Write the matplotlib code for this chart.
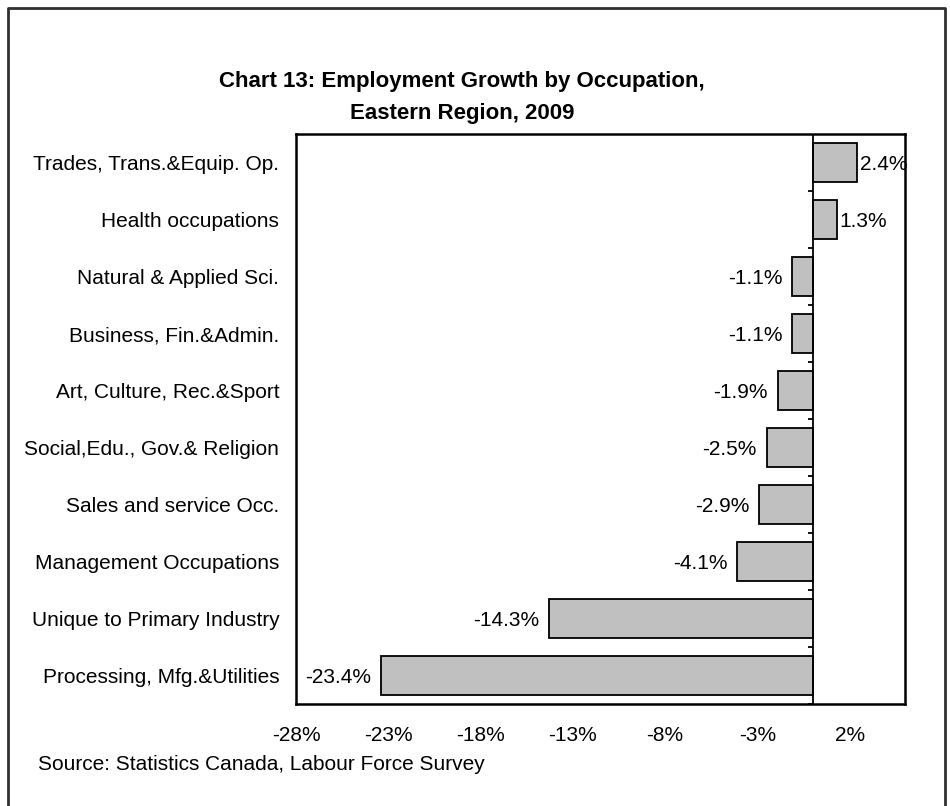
import numpy as np
import matplotlib.pyplot as plt
from matplotlib.lines import Line2D

plt.rcParams['font.family'] = ['Liberation Sans', 'DejaVu Sans']

# data (top to bottom as shown)
occupations = ['Trades, Trans.&Equip. Op.', 'Health occupations', 'Natural & Applied Sci.',
               'Business, Fin.&Admin.', 'Art, Culture, Rec.&Sport', 'Social,Edu., Gov.& Religion',
               'Sales and service Occ.', 'Management Occupations', 'Unique to Primary Industry',
               'Processing, Mfg.&Utilities']
growth = [2.4, 1.3, -1.1, -1.1, -1.9, -2.5, -2.9, -4.1, -14.3, -23.4]
xticks = [-28, -23, -18, -13, -8, -3, 2]

W, H = 950, 806
fig = plt.figure(figsize=(W/100, H/100), dpi=100)
ax = fig.add_axes([296/W, 1-704/H, (905-296)/W, (704-134)/H])

y = np.arange(len(occupations))
ax.barh(y, growth, height=0.70, color='#c0c0c0', edgecolor='black', linewidth=1.3)
ax.set_ylim(len(occupations)-0.5, -0.5)
ax.set_xlim(-28, 5)

# zero axis with small category ticks
ax.axvline(0, color='black', lw=1.3)
bounds = np.arange(len(occupations)+1) - 0.5
ax.hlines(bounds, -0.25, 0, color='black', lw=1.3)

for yi, g in zip(y, growth):
    if g >= 0:
        ax.annotate(f'{g:.1f}%', (g, yi), xytext=(2, 0), textcoords='offset points',
                    ha='left', va='center_baseline', fontsize=15)
    else:
        ax.annotate(f'{g:.1f}%', (g, yi), xytext=(-7, 0), textcoords='offset points',
                    ha='right', va='center_baseline', fontsize=15)

ax.set_yticks(y)
ax.set_yticklabels(occupations, fontsize=15)
ax.set_xticks(xticks)
ax.set_xticklabels([f'{t}%' for t in xticks], fontsize=15)
ax.tick_params(axis='y', length=0, pad=12)
ax.tick_params(axis='x', length=0, pad=16)
for s in ax.spines.values():
    s.set_linewidth(1.8)

fig.text(462/W, 1-82/H, 'Chart 13: Employment Growth by Occupation,', ha='center', va='center',
         fontsize=16, fontweight='bold')
fig.text(462/W, 1-113/H, 'Eastern Region, 2009', ha='center', va='center',
         fontsize=16, fontweight='bold')
fig.text(38/W, 1-765/H, 'Source: Statistics Canada, Labour Force Survey', ha='left', va='center',
         fontsize=15)

# outer chart border (no bottom edge)
fig.add_artist(Line2D([8/W, 8/W, 945/W, 945/W], [0, 1-8/H, 1-8/H, 0],
                      transform=fig.transFigure, color='#303030', lw=2))

fig.savefig('out.png', dpi=100)
